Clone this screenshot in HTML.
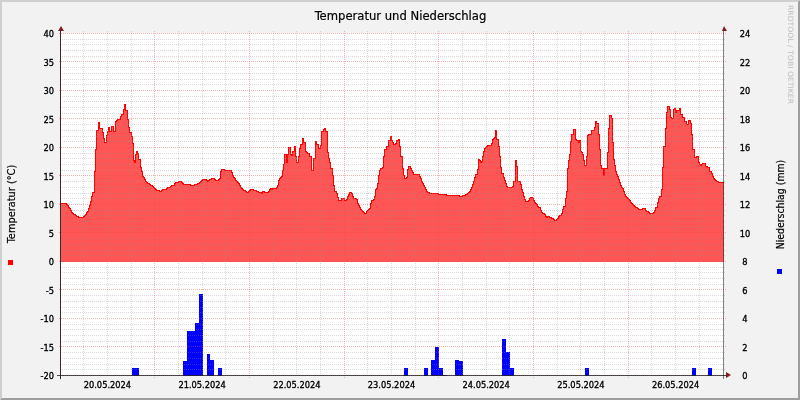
<!DOCTYPE html>
<html lang="de"><head><meta charset="utf-8"><title>Temperatur und Niederschlag</title>
<style>
html,body{margin:0;padding:0;background:#f2f2f2;overflow:hidden}
svg{display:block;font-family:"DejaVu Sans Condensed","Liberation Sans",sans-serif;fill:#000}
.gm path{stroke:#8f8f8f;stroke-opacity:.34;stroke-width:1;stroke-dasharray:1 1;shape-rendering:crispEdges;fill:none}
.gM path{stroke:#de4f4f;stroke-opacity:.42;stroke-width:1;stroke-dasharray:1 1;shape-rendering:crispEdges;fill:none}
.ax{font-size:9.2px;stroke:#000;stroke-width:.3px}
</style></head>
<body>
<svg width="800" height="400" viewBox="0 0 800 400">
<rect x="0" y="0" width="800" height="400" fill="#f2f2f2"/>
<path d="M0,0H800L798,2H2V398L0,400Z" fill="#cfcfcf"/>
<path d="M800,400H0L2,398H798V2L800,0Z" fill="#9e9e9e"/>
<rect x="61" y="33" width="663" height="342" fill="#fff"/>
<path d="M61,261.5 L60.5,203.5 66.5,203.5 66.5,204.5 67.5,204.5 67.5,205.5 68.5,205.5 68.5,207.5 69.5,207.5 69.5,208.5 70.5,208.5 70.5,210.5 71.5,210.5 71.5,212.5 72.5,212.5 72.5,213.5 73.5,213.5 73.5,214.5 75.5,214.5 75.5,215.5 76.5,215.5 76.5,216.5 78.5,216.5 78.5,217.5 83.5,217.5 83.5,216.5 84.5,216.5 84.5,215.5 85.5,215.5 85.5,214.5 86.5,214.5 86.5,212.5 87.5,212.5 87.5,211.5 88.5,211.5 88.5,208.5 89.5,208.5 89.5,205.5 90.5,205.5 90.5,201.5 91.5,201.5 91.5,196.5 92.5,196.5 92.5,192.5 94.5,192.5 94.5,171.5 95.5,171.5 95.5,149.5 96.5,149.5 96.5,130.5 98.5,130.5 98.5,122.5 99.5,122.5 99.5,128.5 102.5,128.5 102.5,132.5 103.5,132.5 103.5,138.5 104.5,138.5 104.5,142.5 106.5,142.5 106.5,135.5 107.5,135.5 107.5,131.5 108.5,131.5 108.5,127.5 109.5,127.5 109.5,131.5 111.5,131.5 111.5,126.5 113.5,126.5 113.5,131.5 115.5,131.5 115.5,121.5 116.5,121.5 116.5,120.5 117.5,120.5 117.5,119.5 120.5,119.5 120.5,116.5 121.5,116.5 121.5,114.5 123.5,114.5 123.5,109.5 124.5,109.5 124.5,104.5 125.5,104.5 125.5,110.5 127.5,110.5 127.5,119.5 128.5,119.5 128.5,127.5 129.5,127.5 129.5,132.5 131.5,132.5 131.5,136.5 132.5,136.5 132.5,143.5 133.5,143.5 133.5,160.5 134.5,160.5 134.5,162.5 135.5,162.5 135.5,154.5 136.5,154.5 136.5,151.5 137.5,151.5 137.5,153.5 138.5,153.5 138.5,159.5 140.5,159.5 140.5,167.5 141.5,167.5 141.5,171.5 142.5,171.5 142.5,176.5 143.5,176.5 143.5,177.5 144.5,177.5 144.5,179.5 145.5,179.5 145.5,181.5 146.5,181.5 146.5,182.5 147.5,182.5 147.5,183.5 149.5,183.5 149.5,184.5 150.5,184.5 150.5,185.5 152.5,185.5 152.5,186.5 153.5,186.5 153.5,187.5 154.5,187.5 154.5,188.5 155.5,188.5 155.5,189.5 156.5,189.5 156.5,190.5 159.5,190.5 159.5,191.5 161.5,191.5 161.5,190.5 162.5,190.5 162.5,189.5 166.5,189.5 166.5,188.5 167.5,188.5 167.5,187.5 170.5,187.5 170.5,186.5 171.5,186.5 171.5,185.5 174.5,185.5 174.5,183.5 175.5,183.5 175.5,182.5 178.5,182.5 178.5,181.5 181.5,181.5 181.5,182.5 182.5,182.5 182.5,183.5 183.5,183.5 183.5,184.5 190.5,184.5 190.5,185.5 194.5,185.5 194.5,184.5 197.5,184.5 197.5,183.5 199.5,183.5 199.5,182.5 200.5,182.5 200.5,181.5 201.5,181.5 201.5,180.5 202.5,180.5 202.5,179.5 206.5,179.5 206.5,180.5 207.5,180.5 207.5,181.5 208.5,181.5 208.5,180.5 209.5,180.5 209.5,179.5 211.5,179.5 211.5,178.5 214.5,178.5 214.5,179.5 215.5,179.5 215.5,180.5 218.5,180.5 218.5,179.5 219.5,179.5 219.5,178.5 220.5,178.5 220.5,171.5 221.5,171.5 221.5,169.5 224.5,169.5 224.5,170.5 231.5,170.5 231.5,172.5 232.5,172.5 232.5,175.5 233.5,175.5 233.5,177.5 234.5,177.5 234.5,178.5 235.5,178.5 235.5,180.5 236.5,180.5 236.5,181.5 237.5,181.5 237.5,182.5 238.5,182.5 238.5,183.5 239.5,183.5 239.5,185.5 240.5,185.5 240.5,187.5 241.5,187.5 241.5,188.5 242.5,188.5 242.5,189.5 243.5,189.5 243.5,190.5 245.5,190.5 245.5,191.5 246.5,191.5 246.5,192.5 248.5,192.5 248.5,191.5 249.5,191.5 249.5,190.5 250.5,190.5 250.5,189.5 253.5,189.5 253.5,190.5 256.5,190.5 256.5,191.5 258.5,191.5 258.5,192.5 261.5,192.5 261.5,193.5 262.5,193.5 262.5,191.5 264.5,191.5 264.5,192.5 268.5,192.5 268.5,191.5 269.5,191.5 269.5,189.5 270.5,189.5 270.5,188.5 271.5,188.5 271.5,189.5 272.5,189.5 272.5,188.5 276.5,188.5 276.5,187.5 277.5,187.5 277.5,185.5 278.5,185.5 278.5,180.5 279.5,180.5 279.5,178.5 280.5,178.5 280.5,177.5 281.5,177.5 281.5,176.5 282.5,176.5 282.5,170.5 283.5,170.5 283.5,164.5 284.5,164.5 284.5,154.5 286.5,154.5 286.5,162.5 287.5,162.5 287.5,154.5 288.5,154.5 288.5,147.5 290.5,147.5 290.5,154.5 291.5,154.5 291.5,155.5 292.5,155.5 292.5,151.5 294.5,151.5 294.5,146.5 295.5,146.5 295.5,156.5 296.5,156.5 296.5,162.5 298.5,162.5 298.5,156.5 299.5,156.5 299.5,148.5 300.5,148.5 300.5,144.5 302.5,144.5 302.5,138.5 303.5,138.5 303.5,142.5 305.5,142.5 305.5,151.5 306.5,151.5 306.5,152.5 307.5,152.5 307.5,153.5 309.5,153.5 309.5,156.5 311.5,156.5 311.5,170.5 313.5,170.5 313.5,158.5 315.5,158.5 315.5,141.5 316.5,141.5 316.5,144.5 318.5,144.5 318.5,148.5 320.5,148.5 320.5,145.5 321.5,145.5 321.5,131.5 323.5,131.5 323.5,129.5 324.5,129.5 324.5,128.5 325.5,128.5 325.5,131.5 327.5,131.5 327.5,152.5 328.5,152.5 328.5,158.5 329.5,158.5 329.5,162.5 330.5,162.5 330.5,168.5 332.5,168.5 332.5,175.5 333.5,175.5 333.5,185.5 334.5,185.5 334.5,191.5 336.5,191.5 336.5,193.5 337.5,193.5 337.5,197.5 338.5,197.5 338.5,200.5 341.5,200.5 341.5,198.5 344.5,198.5 344.5,200.5 346.5,200.5 346.5,199.5 347.5,199.5 347.5,196.5 348.5,196.5 348.5,194.5 349.5,194.5 349.5,192.5 351.5,192.5 351.5,193.5 352.5,193.5 352.5,196.5 353.5,196.5 353.5,198.5 356.5,198.5 356.5,199.5 357.5,199.5 357.5,203.5 358.5,203.5 358.5,205.5 359.5,205.5 359.5,207.5 360.5,207.5 360.5,209.5 361.5,209.5 361.5,210.5 362.5,210.5 362.5,211.5 363.5,211.5 363.5,212.5 364.5,212.5 364.5,213.5 366.5,213.5 366.5,211.5 367.5,211.5 367.5,210.5 368.5,210.5 368.5,209.5 369.5,209.5 369.5,208.5 370.5,208.5 370.5,203.5 371.5,203.5 371.5,200.5 373.5,200.5 373.5,199.5 374.5,199.5 374.5,196.5 375.5,196.5 375.5,189.5 376.5,189.5 376.5,188.5 377.5,188.5 377.5,183.5 378.5,183.5 378.5,175.5 379.5,175.5 379.5,170.5 380.5,170.5 380.5,168.5 382.5,168.5 382.5,167.5 383.5,167.5 383.5,156.5 384.5,156.5 384.5,149.5 386.5,149.5 386.5,146.5 388.5,146.5 388.5,140.5 390.5,140.5 390.5,136.5 391.5,136.5 391.5,140.5 392.5,140.5 392.5,142.5 393.5,142.5 393.5,144.5 395.5,144.5 395.5,143.5 396.5,143.5 396.5,140.5 398.5,140.5 398.5,139.5 399.5,139.5 399.5,146.5 400.5,146.5 400.5,156.5 402.5,156.5 402.5,168.5 403.5,168.5 403.5,175.5 404.5,175.5 404.5,178.5 406.5,178.5 406.5,177.5 407.5,177.5 407.5,169.5 408.5,169.5 408.5,166.5 410.5,166.5 410.5,168.5 411.5,168.5 411.5,170.5 412.5,170.5 412.5,172.5 413.5,172.5 413.5,174.5 419.5,174.5 419.5,176.5 420.5,176.5 420.5,178.5 421.5,178.5 421.5,181.5 422.5,181.5 422.5,183.5 423.5,183.5 423.5,185.5 424.5,185.5 424.5,187.5 425.5,187.5 425.5,189.5 426.5,189.5 426.5,191.5 427.5,191.5 427.5,192.5 429.5,192.5 429.5,193.5 438.5,193.5 438.5,194.5 446.5,194.5 446.5,195.5 459.5,195.5 459.5,196.5 462.5,196.5 462.5,195.5 465.5,195.5 465.5,194.5 467.5,194.5 467.5,193.5 468.5,193.5 468.5,192.5 469.5,192.5 469.5,191.5 470.5,191.5 470.5,189.5 471.5,189.5 471.5,187.5 472.5,187.5 472.5,184.5 473.5,184.5 473.5,181.5 474.5,181.5 474.5,177.5 475.5,177.5 475.5,174.5 477.5,174.5 477.5,169.5 478.5,169.5 478.5,159.5 479.5,159.5 479.5,160.5 480.5,160.5 480.5,162.5 481.5,162.5 481.5,161.5 482.5,161.5 482.5,156.5 483.5,156.5 483.5,151.5 484.5,151.5 484.5,148.5 485.5,148.5 485.5,147.5 486.5,147.5 486.5,146.5 487.5,146.5 487.5,145.5 491.5,145.5 491.5,143.5 492.5,143.5 492.5,139.5 493.5,139.5 493.5,138.5 494.5,138.5 494.5,137.5 495.5,137.5 495.5,130.5 496.5,130.5 496.5,139.5 498.5,139.5 498.5,146.5 499.5,146.5 499.5,156.5 500.5,156.5 500.5,167.5 501.5,167.5 501.5,173.5 503.5,173.5 503.5,177.5 504.5,177.5 504.5,180.5 505.5,180.5 505.5,183.5 506.5,183.5 506.5,186.5 507.5,186.5 507.5,187.5 512.5,187.5 512.5,186.5 513.5,186.5 513.5,181.5 515.5,181.5 515.5,160.5 516.5,160.5 516.5,166.5 517.5,166.5 517.5,181.5 520.5,181.5 520.5,184.5 521.5,184.5 521.5,189.5 522.5,189.5 522.5,192.5 523.5,192.5 523.5,196.5 524.5,196.5 524.5,199.5 525.5,199.5 525.5,201.5 528.5,201.5 528.5,200.5 529.5,200.5 529.5,198.5 530.5,198.5 530.5,197.5 532.5,197.5 532.5,198.5 533.5,198.5 533.5,200.5 534.5,200.5 534.5,202.5 535.5,202.5 535.5,203.5 536.5,203.5 536.5,204.5 537.5,204.5 537.5,206.5 538.5,206.5 538.5,207.5 540.5,207.5 540.5,210.5 541.5,210.5 541.5,212.5 542.5,212.5 542.5,213.5 544.5,213.5 544.5,214.5 545.5,214.5 545.5,216.5 546.5,216.5 546.5,217.5 547.5,217.5 547.5,216.5 549.5,216.5 549.5,217.5 551.5,217.5 551.5,218.5 553.5,218.5 553.5,219.5 554.5,219.5 554.5,220.5 556.5,220.5 556.5,219.5 557.5,219.5 557.5,218.5 558.5,218.5 558.5,216.5 559.5,216.5 559.5,215.5 561.5,215.5 561.5,213.5 562.5,213.5 562.5,209.5 563.5,209.5 563.5,206.5 565.5,206.5 565.5,198.5 566.5,198.5 566.5,191.5 567.5,191.5 567.5,168.5 568.5,168.5 568.5,160.5 569.5,160.5 569.5,154.5 570.5,154.5 570.5,141.5 571.5,141.5 571.5,134.5 573.5,134.5 573.5,129.5 575.5,129.5 575.5,139.5 576.5,139.5 576.5,140.5 578.5,140.5 578.5,142.5 579.5,142.5 579.5,140.5 580.5,140.5 580.5,151.5 581.5,151.5 581.5,152.5 582.5,152.5 582.5,154.5 583.5,154.5 583.5,160.5 584.5,160.5 584.5,165.5 586.5,165.5 586.5,156.5 587.5,156.5 587.5,135.5 588.5,135.5 588.5,134.5 591.5,134.5 591.5,130.5 594.5,130.5 594.5,127.5 595.5,127.5 595.5,121.5 596.5,121.5 596.5,123.5 598.5,123.5 598.5,134.5 599.5,134.5 599.5,149.5 600.5,149.5 600.5,165.5 601.5,165.5 601.5,168.5 603.5,168.5 603.5,175.5 604.5,175.5 604.5,168.5 607.5,168.5 607.5,152.5 608.5,152.5 608.5,128.5 609.5,128.5 609.5,115.5 611.5,115.5 611.5,118.5 612.5,118.5 612.5,142.5 613.5,142.5 613.5,159.5 614.5,159.5 614.5,165.5 615.5,165.5 615.5,171.5 616.5,171.5 616.5,174.5 617.5,174.5 617.5,176.5 618.5,176.5 618.5,179.5 619.5,179.5 619.5,182.5 620.5,182.5 620.5,185.5 621.5,185.5 621.5,187.5 622.5,187.5 622.5,188.5 623.5,188.5 623.5,191.5 624.5,191.5 624.5,194.5 625.5,194.5 625.5,196.5 626.5,196.5 626.5,197.5 627.5,197.5 627.5,198.5 628.5,198.5 628.5,199.5 629.5,199.5 629.5,200.5 630.5,200.5 630.5,202.5 631.5,202.5 631.5,203.5 632.5,203.5 632.5,204.5 633.5,204.5 633.5,205.5 634.5,205.5 634.5,206.5 635.5,206.5 635.5,207.5 637.5,207.5 637.5,208.5 638.5,208.5 638.5,209.5 642.5,209.5 642.5,208.5 645.5,208.5 645.5,210.5 646.5,210.5 646.5,211.5 648.5,211.5 648.5,212.5 649.5,212.5 649.5,213.5 653.5,213.5 653.5,212.5 654.5,212.5 654.5,210.5 655.5,210.5 655.5,207.5 657.5,207.5 657.5,202.5 658.5,202.5 658.5,198.5 659.5,198.5 659.5,196.5 661.5,196.5 661.5,189.5 662.5,189.5 662.5,167.5 663.5,167.5 663.5,146.5 665.5,146.5 665.5,128.5 666.5,128.5 666.5,112.5 667.5,112.5 667.5,106.5 669.5,106.5 669.5,109.5 670.5,109.5 670.5,117.5 671.5,117.5 671.5,118.5 673.5,118.5 673.5,109.5 674.5,109.5 674.5,108.5 675.5,108.5 675.5,112.5 676.5,112.5 676.5,110.5 679.5,110.5 679.5,108.5 680.5,108.5 680.5,114.5 682.5,114.5 682.5,117.5 684.5,117.5 684.5,121.5 686.5,121.5 686.5,124.5 688.5,124.5 688.5,120.5 690.5,120.5 690.5,123.5 691.5,123.5 691.5,134.5 692.5,134.5 692.5,149.5 694.5,149.5 694.5,157.5 696.5,157.5 696.5,156.5 698.5,156.5 698.5,162.5 699.5,162.5 699.5,164.5 700.5,164.5 700.5,165.5 701.5,165.5 701.5,164.5 702.5,164.5 702.5,163.5 705.5,163.5 705.5,166.5 707.5,166.5 707.5,167.5 709.5,167.5 709.5,171.5 711.5,171.5 711.5,173.5 712.5,173.5 712.5,176.5 713.5,176.5 713.5,178.5 714.5,178.5 714.5,179.5 715.5,179.5 715.5,180.5 716.5,180.5 716.5,181.5 718.5,181.5 718.5,182.5 723.5,182.5 L723.5,261.5 Z" fill="#ff0000" fill-opacity=".667" shape-rendering="crispEdges"/>
<path d="M60.5,203.5 66.5,203.5 66.5,204.5 67.5,204.5 67.5,205.5 68.5,205.5 68.5,207.5 69.5,207.5 69.5,208.5 70.5,208.5 70.5,210.5 71.5,210.5 71.5,212.5 72.5,212.5 72.5,213.5 73.5,213.5 73.5,214.5 75.5,214.5 75.5,215.5 76.5,215.5 76.5,216.5 78.5,216.5 78.5,217.5 83.5,217.5 83.5,216.5 84.5,216.5 84.5,215.5 85.5,215.5 85.5,214.5 86.5,214.5 86.5,212.5 87.5,212.5 87.5,211.5 88.5,211.5 88.5,208.5 89.5,208.5 89.5,205.5 90.5,205.5 90.5,201.5 91.5,201.5 91.5,196.5 92.5,196.5 92.5,192.5 94.5,192.5 94.5,171.5 95.5,171.5 95.5,149.5 96.5,149.5 96.5,130.5 98.5,130.5 98.5,122.5 99.5,122.5 99.5,128.5 102.5,128.5 102.5,132.5 103.5,132.5 103.5,138.5 104.5,138.5 104.5,142.5 106.5,142.5 106.5,135.5 107.5,135.5 107.5,131.5 108.5,131.5 108.5,127.5 109.5,127.5 109.5,131.5 111.5,131.5 111.5,126.5 113.5,126.5 113.5,131.5 115.5,131.5 115.5,121.5 116.5,121.5 116.5,120.5 117.5,120.5 117.5,119.5 120.5,119.5 120.5,116.5 121.5,116.5 121.5,114.5 123.5,114.5 123.5,109.5 124.5,109.5 124.5,104.5 125.5,104.5 125.5,110.5 127.5,110.5 127.5,119.5 128.5,119.5 128.5,127.5 129.5,127.5 129.5,132.5 131.5,132.5 131.5,136.5 132.5,136.5 132.5,143.5 133.5,143.5 133.5,160.5 134.5,160.5 134.5,162.5 135.5,162.5 135.5,154.5 136.5,154.5 136.5,151.5 137.5,151.5 137.5,153.5 138.5,153.5 138.5,159.5 140.5,159.5 140.5,167.5 141.5,167.5 141.5,171.5 142.5,171.5 142.5,176.5 143.5,176.5 143.5,177.5 144.5,177.5 144.5,179.5 145.5,179.5 145.5,181.5 146.5,181.5 146.5,182.5 147.5,182.5 147.5,183.5 149.5,183.5 149.5,184.5 150.5,184.5 150.5,185.5 152.5,185.5 152.5,186.5 153.5,186.5 153.5,187.5 154.5,187.5 154.5,188.5 155.5,188.5 155.5,189.5 156.5,189.5 156.5,190.5 159.5,190.5 159.5,191.5 161.5,191.5 161.5,190.5 162.5,190.5 162.5,189.5 166.5,189.5 166.5,188.5 167.5,188.5 167.5,187.5 170.5,187.5 170.5,186.5 171.5,186.5 171.5,185.5 174.5,185.5 174.5,183.5 175.5,183.5 175.5,182.5 178.5,182.5 178.5,181.5 181.5,181.5 181.5,182.5 182.5,182.5 182.5,183.5 183.5,183.5 183.5,184.5 190.5,184.5 190.5,185.5 194.5,185.5 194.5,184.5 197.5,184.5 197.5,183.5 199.5,183.5 199.5,182.5 200.5,182.5 200.5,181.5 201.5,181.5 201.5,180.5 202.5,180.5 202.5,179.5 206.5,179.5 206.5,180.5 207.5,180.5 207.5,181.5 208.5,181.5 208.5,180.5 209.5,180.5 209.5,179.5 211.5,179.5 211.5,178.5 214.5,178.5 214.5,179.5 215.5,179.5 215.5,180.5 218.5,180.5 218.5,179.5 219.5,179.5 219.5,178.5 220.5,178.5 220.5,171.5 221.5,171.5 221.5,169.5 224.5,169.5 224.5,170.5 231.5,170.5 231.5,172.5 232.5,172.5 232.5,175.5 233.5,175.5 233.5,177.5 234.5,177.5 234.5,178.5 235.5,178.5 235.5,180.5 236.5,180.5 236.5,181.5 237.5,181.5 237.5,182.5 238.5,182.5 238.5,183.5 239.5,183.5 239.5,185.5 240.5,185.5 240.5,187.5 241.5,187.5 241.5,188.5 242.5,188.5 242.5,189.5 243.5,189.5 243.5,190.5 245.5,190.5 245.5,191.5 246.5,191.5 246.5,192.5 248.5,192.5 248.5,191.5 249.5,191.5 249.5,190.5 250.5,190.5 250.5,189.5 253.5,189.5 253.5,190.5 256.5,190.5 256.5,191.5 258.5,191.5 258.5,192.5 261.5,192.5 261.5,193.5 262.5,193.5 262.5,191.5 264.5,191.5 264.5,192.5 268.5,192.5 268.5,191.5 269.5,191.5 269.5,189.5 270.5,189.5 270.5,188.5 271.5,188.5 271.5,189.5 272.5,189.5 272.5,188.5 276.5,188.5 276.5,187.5 277.5,187.5 277.5,185.5 278.5,185.5 278.5,180.5 279.5,180.5 279.5,178.5 280.5,178.5 280.5,177.5 281.5,177.5 281.5,176.5 282.5,176.5 282.5,170.5 283.5,170.5 283.5,164.5 284.5,164.5 284.5,154.5 286.5,154.5 286.5,162.5 287.5,162.5 287.5,154.5 288.5,154.5 288.5,147.5 290.5,147.5 290.5,154.5 291.5,154.5 291.5,155.5 292.5,155.5 292.5,151.5 294.5,151.5 294.5,146.5 295.5,146.5 295.5,156.5 296.5,156.5 296.5,162.5 298.5,162.5 298.5,156.5 299.5,156.5 299.5,148.5 300.5,148.5 300.5,144.5 302.5,144.5 302.5,138.5 303.5,138.5 303.5,142.5 305.5,142.5 305.5,151.5 306.5,151.5 306.5,152.5 307.5,152.5 307.5,153.5 309.5,153.5 309.5,156.5 311.5,156.5 311.5,170.5 313.5,170.5 313.5,158.5 315.5,158.5 315.5,141.5 316.5,141.5 316.5,144.5 318.5,144.5 318.5,148.5 320.5,148.5 320.5,145.5 321.5,145.5 321.5,131.5 323.5,131.5 323.5,129.5 324.5,129.5 324.5,128.5 325.5,128.5 325.5,131.5 327.5,131.5 327.5,152.5 328.5,152.5 328.5,158.5 329.5,158.5 329.5,162.5 330.5,162.5 330.5,168.5 332.5,168.5 332.5,175.5 333.5,175.5 333.5,185.5 334.5,185.5 334.5,191.5 336.5,191.5 336.5,193.5 337.5,193.5 337.5,197.5 338.5,197.5 338.5,200.5 341.5,200.5 341.5,198.5 344.5,198.5 344.5,200.5 346.5,200.5 346.5,199.5 347.5,199.5 347.5,196.5 348.5,196.5 348.5,194.5 349.5,194.5 349.5,192.5 351.5,192.5 351.5,193.5 352.5,193.5 352.5,196.5 353.5,196.5 353.5,198.5 356.5,198.5 356.5,199.5 357.5,199.5 357.5,203.5 358.5,203.5 358.5,205.5 359.5,205.5 359.5,207.5 360.5,207.5 360.5,209.5 361.5,209.5 361.5,210.5 362.5,210.5 362.5,211.5 363.5,211.5 363.5,212.5 364.5,212.5 364.5,213.5 366.5,213.5 366.5,211.5 367.5,211.5 367.5,210.5 368.5,210.5 368.5,209.5 369.5,209.5 369.5,208.5 370.5,208.5 370.5,203.5 371.5,203.5 371.5,200.5 373.5,200.5 373.5,199.5 374.5,199.5 374.5,196.5 375.5,196.5 375.5,189.5 376.5,189.5 376.5,188.5 377.5,188.5 377.5,183.5 378.5,183.5 378.5,175.5 379.5,175.5 379.5,170.5 380.5,170.5 380.5,168.5 382.5,168.5 382.5,167.5 383.5,167.5 383.5,156.5 384.5,156.5 384.5,149.5 386.5,149.5 386.5,146.5 388.5,146.5 388.5,140.5 390.5,140.5 390.5,136.5 391.5,136.5 391.5,140.5 392.5,140.5 392.5,142.5 393.5,142.5 393.5,144.5 395.5,144.5 395.5,143.5 396.5,143.5 396.5,140.5 398.5,140.5 398.5,139.5 399.5,139.5 399.5,146.5 400.5,146.5 400.5,156.5 402.5,156.5 402.5,168.5 403.5,168.5 403.5,175.5 404.5,175.5 404.5,178.5 406.5,178.5 406.5,177.5 407.5,177.5 407.5,169.5 408.5,169.5 408.5,166.5 410.5,166.5 410.5,168.5 411.5,168.5 411.5,170.5 412.5,170.5 412.5,172.5 413.5,172.5 413.5,174.5 419.5,174.5 419.5,176.5 420.5,176.5 420.5,178.5 421.5,178.5 421.5,181.5 422.5,181.5 422.5,183.5 423.5,183.5 423.5,185.5 424.5,185.5 424.5,187.5 425.5,187.5 425.5,189.5 426.5,189.5 426.5,191.5 427.5,191.5 427.5,192.5 429.5,192.5 429.5,193.5 438.5,193.5 438.5,194.5 446.5,194.5 446.5,195.5 459.5,195.5 459.5,196.5 462.5,196.5 462.5,195.5 465.5,195.5 465.5,194.5 467.5,194.5 467.5,193.5 468.5,193.5 468.5,192.5 469.5,192.5 469.5,191.5 470.5,191.5 470.5,189.5 471.5,189.5 471.5,187.5 472.5,187.5 472.5,184.5 473.5,184.5 473.5,181.5 474.5,181.5 474.5,177.5 475.5,177.5 475.5,174.5 477.5,174.5 477.5,169.5 478.5,169.5 478.5,159.5 479.5,159.5 479.5,160.5 480.5,160.5 480.5,162.5 481.5,162.5 481.5,161.5 482.5,161.5 482.5,156.5 483.5,156.5 483.5,151.5 484.5,151.5 484.5,148.5 485.5,148.5 485.5,147.5 486.5,147.5 486.5,146.5 487.5,146.5 487.5,145.5 491.5,145.5 491.5,143.5 492.5,143.5 492.5,139.5 493.5,139.5 493.5,138.5 494.5,138.5 494.5,137.5 495.5,137.5 495.5,130.5 496.5,130.5 496.5,139.5 498.5,139.5 498.5,146.5 499.5,146.5 499.5,156.5 500.5,156.5 500.5,167.5 501.5,167.5 501.5,173.5 503.5,173.5 503.5,177.5 504.5,177.5 504.5,180.5 505.5,180.5 505.5,183.5 506.5,183.5 506.5,186.5 507.5,186.5 507.5,187.5 512.5,187.5 512.5,186.5 513.5,186.5 513.5,181.5 515.5,181.5 515.5,160.5 516.5,160.5 516.5,166.5 517.5,166.5 517.5,181.5 520.5,181.5 520.5,184.5 521.5,184.5 521.5,189.5 522.5,189.5 522.5,192.5 523.5,192.5 523.5,196.5 524.5,196.5 524.5,199.5 525.5,199.5 525.5,201.5 528.5,201.5 528.5,200.5 529.5,200.5 529.5,198.5 530.5,198.5 530.5,197.5 532.5,197.5 532.5,198.5 533.5,198.5 533.5,200.5 534.5,200.5 534.5,202.5 535.5,202.5 535.5,203.5 536.5,203.5 536.5,204.5 537.5,204.5 537.5,206.5 538.5,206.5 538.5,207.5 540.5,207.5 540.5,210.5 541.5,210.5 541.5,212.5 542.5,212.5 542.5,213.5 544.5,213.5 544.5,214.5 545.5,214.5 545.5,216.5 546.5,216.5 546.5,217.5 547.5,217.5 547.5,216.5 549.5,216.5 549.5,217.5 551.5,217.5 551.5,218.5 553.5,218.5 553.5,219.5 554.5,219.5 554.5,220.5 556.5,220.5 556.5,219.5 557.5,219.5 557.5,218.5 558.5,218.5 558.5,216.5 559.5,216.5 559.5,215.5 561.5,215.5 561.5,213.5 562.5,213.5 562.5,209.5 563.5,209.5 563.5,206.5 565.5,206.5 565.5,198.5 566.5,198.5 566.5,191.5 567.5,191.5 567.5,168.5 568.5,168.5 568.5,160.5 569.5,160.5 569.5,154.5 570.5,154.5 570.5,141.5 571.5,141.5 571.5,134.5 573.5,134.5 573.5,129.5 575.5,129.5 575.5,139.5 576.5,139.5 576.5,140.5 578.5,140.5 578.5,142.5 579.5,142.5 579.5,140.5 580.5,140.5 580.5,151.5 581.5,151.5 581.5,152.5 582.5,152.5 582.5,154.5 583.5,154.5 583.5,160.5 584.5,160.5 584.5,165.5 586.5,165.5 586.5,156.5 587.5,156.5 587.5,135.5 588.5,135.5 588.5,134.5 591.5,134.5 591.5,130.5 594.5,130.5 594.5,127.5 595.5,127.5 595.5,121.5 596.5,121.5 596.5,123.5 598.5,123.5 598.5,134.5 599.5,134.5 599.5,149.5 600.5,149.5 600.5,165.5 601.5,165.5 601.5,168.5 603.5,168.5 603.5,175.5 604.5,175.5 604.5,168.5 607.5,168.5 607.5,152.5 608.5,152.5 608.5,128.5 609.5,128.5 609.5,115.5 611.5,115.5 611.5,118.5 612.5,118.5 612.5,142.5 613.5,142.5 613.5,159.5 614.5,159.5 614.5,165.5 615.5,165.5 615.5,171.5 616.5,171.5 616.5,174.5 617.5,174.5 617.5,176.5 618.5,176.5 618.5,179.5 619.5,179.5 619.5,182.5 620.5,182.5 620.5,185.5 621.5,185.5 621.5,187.5 622.5,187.5 622.5,188.5 623.5,188.5 623.5,191.5 624.5,191.5 624.5,194.5 625.5,194.5 625.5,196.5 626.5,196.5 626.5,197.5 627.5,197.5 627.5,198.5 628.5,198.5 628.5,199.5 629.5,199.5 629.5,200.5 630.5,200.5 630.5,202.5 631.5,202.5 631.5,203.5 632.5,203.5 632.5,204.5 633.5,204.5 633.5,205.5 634.5,205.5 634.5,206.5 635.5,206.5 635.5,207.5 637.5,207.5 637.5,208.5 638.5,208.5 638.5,209.5 642.5,209.5 642.5,208.5 645.5,208.5 645.5,210.5 646.5,210.5 646.5,211.5 648.5,211.5 648.5,212.5 649.5,212.5 649.5,213.5 653.5,213.5 653.5,212.5 654.5,212.5 654.5,210.5 655.5,210.5 655.5,207.5 657.5,207.5 657.5,202.5 658.5,202.5 658.5,198.5 659.5,198.5 659.5,196.5 661.5,196.5 661.5,189.5 662.5,189.5 662.5,167.5 663.5,167.5 663.5,146.5 665.5,146.5 665.5,128.5 666.5,128.5 666.5,112.5 667.5,112.5 667.5,106.5 669.5,106.5 669.5,109.5 670.5,109.5 670.5,117.5 671.5,117.5 671.5,118.5 673.5,118.5 673.5,109.5 674.5,109.5 674.5,108.5 675.5,108.5 675.5,112.5 676.5,112.5 676.5,110.5 679.5,110.5 679.5,108.5 680.5,108.5 680.5,114.5 682.5,114.5 682.5,117.5 684.5,117.5 684.5,121.5 686.5,121.5 686.5,124.5 688.5,124.5 688.5,120.5 690.5,120.5 690.5,123.5 691.5,123.5 691.5,134.5 692.5,134.5 692.5,149.5 694.5,149.5 694.5,157.5 696.5,157.5 696.5,156.5 698.5,156.5 698.5,162.5 699.5,162.5 699.5,164.5 700.5,164.5 700.5,165.5 701.5,165.5 701.5,164.5 702.5,164.5 702.5,163.5 705.5,163.5 705.5,166.5 707.5,166.5 707.5,167.5 709.5,167.5 709.5,171.5 711.5,171.5 711.5,173.5 712.5,173.5 712.5,176.5 713.5,176.5 713.5,178.5 714.5,178.5 714.5,179.5 715.5,179.5 715.5,180.5 716.5,180.5 716.5,181.5 718.5,181.5 718.5,182.5 723.5,182.5" fill="none" stroke="#ff0000" stroke-width="1" shape-rendering="crispEdges"/>
<g fill="#0000ff" shape-rendering="crispEdges"><rect x="132" y="368" width="7" height="7.5"/><rect x="183" y="361" width="4" height="14.5"/><rect x="187" y="331" width="8" height="44.5"/><rect x="195" y="323" width="4" height="52.5"/><rect x="199" y="294" width="4" height="81.5"/><rect x="207" y="354" width="3" height="21.5"/><rect x="210" y="360" width="4" height="15.5"/><rect x="218" y="368" width="4" height="7.5"/><rect x="404" y="368" width="4" height="7.5"/><rect x="424" y="368" width="4" height="7.5"/><rect x="431" y="360" width="4" height="15.5"/><rect x="435" y="347" width="4" height="28.5"/><rect x="439" y="368" width="4" height="7.5"/><rect x="443" y="374.6" width="4" height="0.9"/><rect x="455" y="360" width="4" height="15.5"/><rect x="459" y="361" width="4" height="14.5"/><rect x="502" y="339" width="4" height="36.5"/><rect x="506" y="352" width="4" height="23.5"/><rect x="510" y="368" width="4" height="7.5"/><rect x="585" y="368" width="4" height="7.5"/><rect x="692" y="368" width="4" height="7.5"/><rect x="708" y="368" width="4" height="7.5"/></g>
<g class="gm"><path d="M60,369.5H726"/><path d="M60,364.5H726"/><path d="M60,358.5H726"/><path d="M60,352.5H726"/><path d="M60,341.5H726"/><path d="M60,335.5H726"/><path d="M60,329.5H726"/><path d="M60,324.5H726"/><path d="M60,312.5H726"/><path d="M60,307.5H726"/><path d="M60,301.5H726"/><path d="M60,295.5H726"/><path d="M60,284.5H726"/><path d="M60,278.5H726"/><path d="M60,272.5H726"/><path d="M60,267.5H726"/><path d="M60,255.5H726"/><path d="M60,250.5H726"/><path d="M60,244.5H726"/><path d="M60,238.5H726"/><path d="M60,227.5H726"/><path d="M60,221.5H726"/><path d="M60,215.5H726"/><path d="M60,210.5H726"/><path d="M60,198.5H726"/><path d="M60,193.5H726"/><path d="M60,187.5H726"/><path d="M60,181.5H726"/><path d="M60,170.5H726"/><path d="M60,164.5H726"/><path d="M60,158.5H726"/><path d="M60,153.5H726"/><path d="M60,141.5H726"/><path d="M60,136.5H726"/><path d="M60,130.5H726"/><path d="M60,124.5H726"/><path d="M60,113.5H726"/><path d="M60,107.5H726"/><path d="M60,101.5H726"/><path d="M60,96.5H726"/><path d="M60,84.5H726"/><path d="M60,79.5H726"/><path d="M60,73.5H726"/><path d="M60,67.5H726"/><path d="M60,56.5H726"/><path d="M60,50.5H726"/><path d="M60,44.5H726"/><path d="M60,39.5H726"/><path d="M83.5,31V377"/><path d="M107.5,31V377"/><path d="M131.5,31V377"/><path d="M178.5,31V377"/><path d="M202.5,31V377"/><path d="M225.5,31V377"/><path d="M273.5,31V377"/><path d="M296.5,31V377"/><path d="M320.5,31V377"/><path d="M367.5,31V377"/><path d="M391.5,31V377"/><path d="M415.5,31V377"/><path d="M462.5,31V377"/><path d="M486.5,31V377"/><path d="M509.5,31V377"/><path d="M557.5,31V377"/><path d="M580.5,31V377"/><path d="M604.5,31V377"/><path d="M651.5,31V377"/><path d="M675.5,31V377"/><path d="M699.5,31V377"/></g>
<g class="gM"><path d="M59,375.5H726"/><path d="M59,346.5H726"/><path d="M59,318.5H726"/><path d="M59,289.5H726"/><path d="M59,261.5H726"/><path d="M59,232.5H726"/><path d="M59,204.5H726"/><path d="M59,175.5H726"/><path d="M59,147.5H726"/><path d="M59,118.5H726"/><path d="M59,90.5H726"/><path d="M59,61.5H726"/><path d="M59,33.5H726"/><path d="M154.5,31V378"/><path d="M249.5,31V378"/><path d="M344.5,31V378"/><path d="M438.5,31V378"/><path d="M533.5,31V378"/><path d="M628.5,31V378"/></g>
<path d="M57,375.5H728" stroke="#1f1f1f" stroke-opacity=".8" stroke-width="1" shape-rendering="crispEdges"/>
<path d="M60.5,379V29" stroke="#2a1212" stroke-opacity=".9" stroke-width="1" shape-rendering="crispEdges"/>
<path d="M723.5,379V29" stroke="#1f1f1f" stroke-opacity=".55" stroke-width="1" shape-rendering="crispEdges"/>
<g fill="#801f1f">
<path d="M726,372V378L731,375Z"/>
<path d="M58,31H64L61,26Z"/>
<path d="M722,31H727L724,26Z"/>
</g>
<text x="400.5" y="20" text-anchor="middle" style="font-size:12.9px;stroke:#000;stroke-width:.2px">Temperatur und Niederschlag</text>
<g class="ax"><text x="54" y="379" text-anchor="end">-20</text><text x="54" y="350.5" text-anchor="end">-15</text><text x="54" y="322" text-anchor="end">-10</text><text x="54" y="293.5" text-anchor="end">-5</text><text x="54" y="265" text-anchor="end">0</text><text x="54" y="236.5" text-anchor="end">5</text><text x="54" y="208" text-anchor="end">10</text><text x="54" y="179.5" text-anchor="end">15</text><text x="54" y="151" text-anchor="end">20</text><text x="54" y="122.5" text-anchor="end">25</text><text x="54" y="94" text-anchor="end">30</text><text x="54" y="65.5" text-anchor="end">35</text><text x="54" y="37" text-anchor="end">40</text></g>
<g class="ax"><text x="745" y="379" text-anchor="middle">0</text><text x="745" y="350.5" text-anchor="middle">2</text><text x="745" y="322" text-anchor="middle">4</text><text x="745" y="293.5" text-anchor="middle">6</text><text x="745" y="265" text-anchor="middle">8</text><text x="745" y="236.5" text-anchor="middle">10</text><text x="745" y="208" text-anchor="middle">12</text><text x="745" y="179.5" text-anchor="middle">14</text><text x="745" y="151" text-anchor="middle">16</text><text x="745" y="122.5" text-anchor="middle">18</text><text x="745" y="94" text-anchor="middle">20</text><text x="745" y="65.5" text-anchor="middle">22</text><text x="745" y="37" text-anchor="middle">24</text></g>
<g class="ax"><text x="107.4" y="388" text-anchor="middle">20.05.2024</text><text x="202.1" y="388" text-anchor="middle">21.05.2024</text><text x="296.8" y="388" text-anchor="middle">22.05.2024</text><text x="391.5" y="388" text-anchor="middle">23.05.2024</text><text x="486.2" y="388" text-anchor="middle">24.05.2024</text><text x="580.9" y="388" text-anchor="middle">25.05.2024</text><text x="675.6" y="388" text-anchor="middle">26.05.2024</text></g>
<text transform="translate(15,204) rotate(-90)" text-anchor="middle" style="font-size:10.9px;stroke:#000;stroke-width:.2px">Temperatur (°C)</text>
<text transform="translate(784,204.5) rotate(-90)" text-anchor="middle" style="font-size:10.4px;stroke:#000;stroke-width:.2px">Niederschlag (mm)</text>
<rect x="8" y="260" width="5" height="5" fill="#ff0000"/>
<rect x="777" y="269" width="5" height="5" fill="#0000ff"/>
<text transform="translate(788,5) rotate(90)" style="font-size:7.3px" fill="#bebebe" textLength="99" lengthAdjust="spacingAndGlyphs">RRDTOOL / TOBI OETIKER</text>
</svg>
</body></html>
